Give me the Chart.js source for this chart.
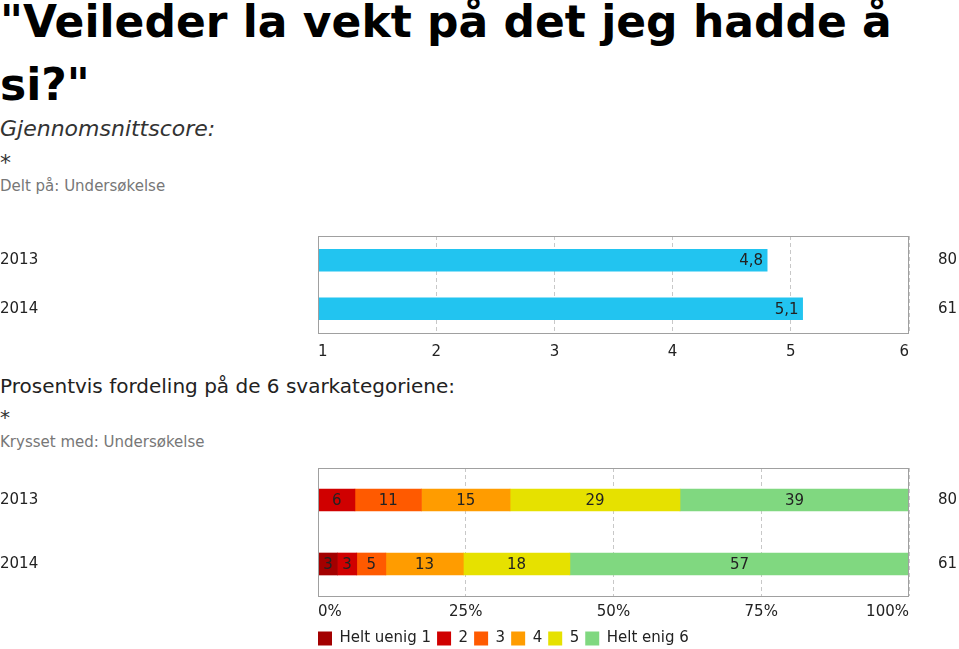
<!DOCTYPE html>
<html>
<head>
<meta charset="utf-8">
<script src="https://cdn.jsdelivr.net/npm/chart.js@4"></script>
<style>
  html, body { margin: 0; padding: 0; background: #fff; overflow: hidden; }
  body { width: 959px; height: 649px; position: relative; font-family: "DejaVu Sans", Verdana, sans-serif; }
  .txt { position: absolute; left: 0; white-space: nowrap; }
  #title { top: -10px; font-size: 44px; line-height: 63px; font-weight: bold; color: #000; }
  #sub1 { top: 118px; font-size: 22px; line-height: 22px; font-style: italic; color: #333; }
  #star1 { top: 152px; font-size: 22px; line-height: 22px; color: #333; }
  #note1 { top: 179px; font-size: 15px; line-height: 15px; color: #777; }
  #sub2 { top: 376px; font-size: 20px; line-height: 20px; color: #222; }
  #star2 { top: 407px; font-size: 20px; line-height: 20px; color: #333; }
  #note2 { top: 435px; font-size: 15px; line-height: 15px; color: #777; }
  #avgWrap { position: absolute; left: 0; top: 227px; }
  #distWrap { position: absolute; left: 0; top: 459px; }
</style>
</head>
<body>
<div class="txt" id="title">"Veileder la vekt på det jeg hadde å<br>si?"</div>
<div class="txt" id="sub1">Gjennomsnittscore:</div>
<div class="txt" id="star1">*</div>
<div class="txt" id="note1">Delt på: Undersøkelse</div>
<div class="txt" id="sub2">Prosentvis fordeling på de 6 svarkategoriene:</div>
<div class="txt" id="star2">*</div>
<div class="txt" id="note2">Krysset med: Undersøkelse</div>
<div id="avgWrap"><canvas id="avgChart" width="959" height="145"></canvas></div>
<div id="distWrap"><canvas id="distChart" width="959" height="200"></canvas></div>

<script>
// data
var years = ['2013', '2014'];
var respondents = ['80', '61'];
var avgScores = [4.8, 5.1];
var answerLabels = ['Helt uenig 1', '2', '3', '4', '5', 'Helt enig 6'];
// share of answers per category (percent), 2013 and 2014
var share2013 = [0, 6.25, 11.25, 15, 28.75, 38.75];
var share2014 = [3.28, 3.28, 4.92, 13.11, 18.03, 57.38];

var answerColors = ['#a30000', '#d00000', '#ff5a00', '#ff9c00', '#e6e100', '#80d880'];
var txtFont = { family: 'DejaVu Sans', size: 15 };
var boxColor = '#a0a0a0';

// frame around the plot area
var boxPlugin = {
  id: 'box',
  afterDraw: function (chart) {
    var a = chart.chartArea, ctx = chart.ctx;
    ctx.save();
    ctx.strokeStyle = boxColor;
    ctx.lineWidth = 1;
    ctx.strokeRect(Math.round(a.left) + 0.5, Math.round(a.top) + 0.5, Math.round(a.right - a.left) - 1, Math.round(a.bottom - a.top));
    ctx.restore();
  }
};

// value texts on the bars
var valuePlugin = {
  id: 'values',
  afterDatasetsDraw: function (chart, args, opts) {
    var ctx = chart.ctx;
    ctx.save();
    ctx.font = '15px "DejaVu Sans"';
    ctx.fillStyle = '#222';
    ctx.textBaseline = 'middle';
    chart.data.datasets.forEach(function (ds, i) {
      chart.getDatasetMeta(i).data.forEach(function (bar, j) {
        var v = ds.data[j];
        if (!v) return;
        if (opts.mode === 'end') {
          ctx.textAlign = 'right';
          ctx.fillText(v.toFixed(1).replace('.', ','), bar.x - 4, bar.y + 1);
        } else {
          ctx.textAlign = 'center';
          ctx.fillText(Math.round(v), (bar.x + bar.base) / 2, bar.y + 1);
        }
      });
    });
    ctx.restore();
  }
};

function sideAxes() {
  return {
    y: {
      grid: { display: false, drawTicks: false },
      border: { display: false },
      ticks: { crossAlign: 'far', padding: 0, font: txtFont, color: '#222' },
      afterFit: function (s) { s.width = 318; }
    },
    y2: {
      type: 'category',
      labels: respondents,
      position: 'right',
      offset: true,
      grid: { display: false, drawTicks: false },
      border: { display: false },
      ticks: { crossAlign: 'far', padding: 0, font: txtFont, color: '#222' },
      afterFit: function (s) { s.width = 48; }
    }
  };
}

var avgScales = sideAxes();
avgScales.x = {
  type: 'linear',
  min: 1,
  max: 6,
  ticks: { stepSize: 1, align: 'inner', padding: 10, font: txtFont, color: '#222' },
  grid: { color: '#c8c8c8', drawTicks: false },
  border: { display: false, dash: [4, 3] }
};

new Chart(document.getElementById('avgChart'), {
  type: 'bar',
  data: {
    labels: years,
    datasets: [{
      label: 'Gjennomsnitt',
      data: avgScores,
      backgroundColor: '#22c4f0',
      barThickness: 22,
      borderWidth: 0
    }]
  },
  options: {
    indexAxis: 'y',
    responsive: false,
    animation: false,
    devicePixelRatio: 1,
    layout: { padding: { top: 0, bottom: 1, right: 2 } },
    scales: avgScales,
    plugins: {
      legend: { display: false },
      tooltip: { enabled: false },
      values: { mode: 'end' }
    }
  },
  plugins: [boxPlugin, valuePlugin]
});

var distScales = sideAxes();
distScales.y.stacked = true;
distScales.x = {
  type: 'linear',
  stacked: true,
  min: 0,
  max: 100,
  ticks: { stepSize: 25, align: 'inner', padding: 7, font: txtFont, color: '#222', callback: function (v) { return v + '%'; } },
  grid: { color: '#c8c8c8', drawTicks: false },
  border: { display: false, dash: [4, 3] }
};

var legendPad = 6;
// align legend items with the plot's left edge
var legendShift = {
  id: 'legendShift',
  afterLayout: function (chart) {
    if (chart.legend) {
      chart.legend.left -= legendPad;
      chart.legend.right -= legendPad;
      chart.legend.top -= 3;
      chart.legend.bottom -= 3;
    }
  }
};

new Chart(document.getElementById('distChart'), {
  type: 'bar',
  data: {
    labels: years,
    datasets: answerLabels.map(function (lab, k) {
      return {
        label: lab,
        data: [share2013[k], share2014[k]],
        backgroundColor: answerColors[k],
        borderWidth: 0,
        barThickness: 22
      };
    })
  },
  options: {
    indexAxis: 'y',
    responsive: false,
    animation: false,
    devicePixelRatio: 1,
    layout: { padding: { top: 0, bottom: 0, right: 2 } },
    scales: distScales,
    plugins: {
      legend: {
        position: 'bottom',
        align: 'start',
        fullSize: false,
        labels: { boxWidth: 14, boxHeight: 14, padding: legendPad, font: txtFont, color: '#222' }
      },
      tooltip: { enabled: false },
      values: { mode: 'middle' }
    }
  },
  plugins: [boxPlugin, valuePlugin, legendShift]
});
</script>
</body>
</html>
